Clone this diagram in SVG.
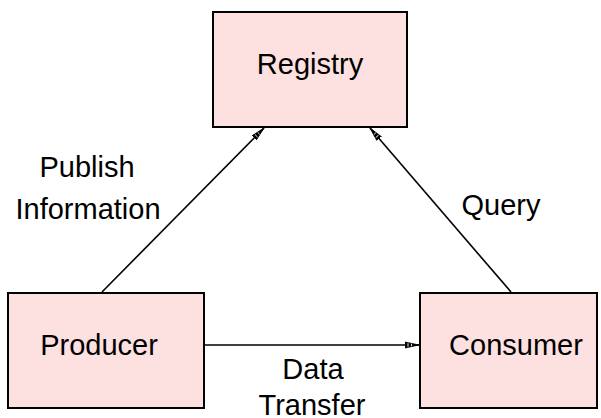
<svg xmlns="http://www.w3.org/2000/svg" width="601" height="418" viewBox="0 0 601 418">
  <style>
    .box { fill: #fde0e0; stroke: #000; stroke-width: 2; }
    .lbl { font-family: "Liberation Sans", Arial, sans-serif; font-size: 29px; fill: #000; text-anchor: middle; }
    .edge { stroke: #000; stroke-width: 1.6; fill: none; marker-end: url(#head); }
  </style>
  <defs>
    <!-- narrow hatched arrowhead -->
    <marker id="head" viewBox="0 0 14 8" refX="14" refY="4" markerWidth="14" markerHeight="8" markerUnits="userSpaceOnUse" orient="auto">
      <path d="M0,1 L14,4 L0,7 Z" fill="#000" stroke="#000" stroke-width="0.8"/>
      <path d="M3,2.2 L3,5.8 M6.5,2.8 L6.5,5.2" stroke="#fff" stroke-width="0.9"/>
    </marker>
  </defs>

  <g id="connectors">
    <line id="publish" class="edge" x1="102" y1="292" x2="264" y2="128"/>
    <line id="query" class="edge" x1="511" y1="292" x2="370" y2="128"/>
    <line id="transfer" class="edge" x1="204" y1="345" x2="419" y2="345"/>
    <text class="lbl" x="87" y="177">Publish</text>
    <text class="lbl" x="88" y="219">Information</text>
    <text class="lbl" x="501" y="215">Query</text>
    <text class="lbl" x="313" y="379">Data</text>
    <text class="lbl" x="312" y="415">Transfer</text>
  </g>

  <g id="registry">
    <rect class="box" x="213" y="12" width="194" height="115"/>
    <text class="lbl" x="310" y="74">Registry</text>
  </g>

  <g id="producer">
    <rect class="box" x="8" y="293" width="196" height="115"/>
    <text class="lbl" x="99" y="355">Producer</text>
  </g>

  <g id="consumer">
    <rect class="box" x="420" y="293" width="177" height="115"/>
    <text class="lbl" x="516" y="355">Consumer</text>
  </g>
</svg>
